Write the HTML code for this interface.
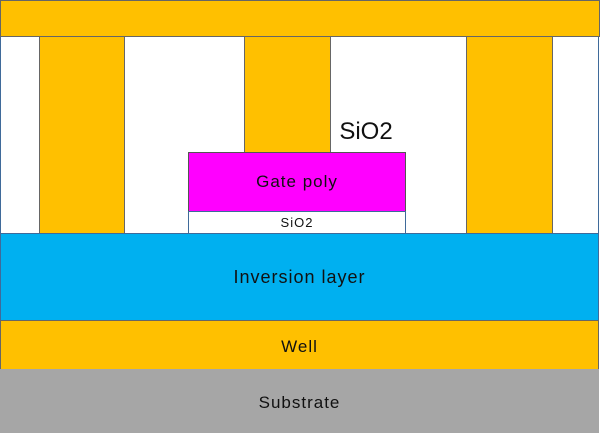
<!DOCTYPE html>
<html><head><style>
body{margin:0;width:600px;height:442px;background:#fff;position:relative;overflow:hidden;font-family:"Liberation Sans",sans-serif}
div{position:absolute;box-sizing:border-box}
.t{display:flex;align-items:center;justify-content:center;color:#111;letter-spacing:1px}
</style></head><body>
<div style="left:0;top:36px;width:599px;height:198px;border:1px solid #3f6a9a"></div>
<div style="left:0;top:0;width:600px;height:37px;background:#ffc000;border:1px solid #666"></div>
<div style="left:39px;top:36px;width:86px;height:198px;background:#ffc000;border:1px solid #666"></div>
<div style="left:244px;top:36px;width:87px;height:117px;background:#ffc000;border:1px solid #666"></div>
<div style="left:466px;top:36px;width:87px;height:198px;background:#ffc000;border:1px solid #666"></div>
<div class="t" style="left:326px;top:116px;width:80px;height:32px;font-size:24px;letter-spacing:0">SiO2</div>
<div class="t" style="left:188px;top:152px;width:218px;height:60px;background:#ff00ff;border:1px solid #555;font-size:17px">Gate poly</div>
<div class="t" style="left:188px;top:211px;width:218px;height:23px;background:#fff;border:1px solid #3f6a9a;font-size:13px">SiO2</div>
<div class="t" style="left:0;top:233px;width:599px;height:88px;background:#00b0f0;border:1px solid #3f6a9a;font-size:18px">Inversion layer</div>
<div class="t" style="left:0;top:320px;width:599px;height:50px;background:#ffc000;border:1px solid #666;font-size:17px;padding-top:4px">Well</div>
<div class="t" style="left:0;top:369px;width:599px;height:64px;background:#a6a6a6;font-size:17px;padding-top:4px">Substrate</div>
</body></html>
